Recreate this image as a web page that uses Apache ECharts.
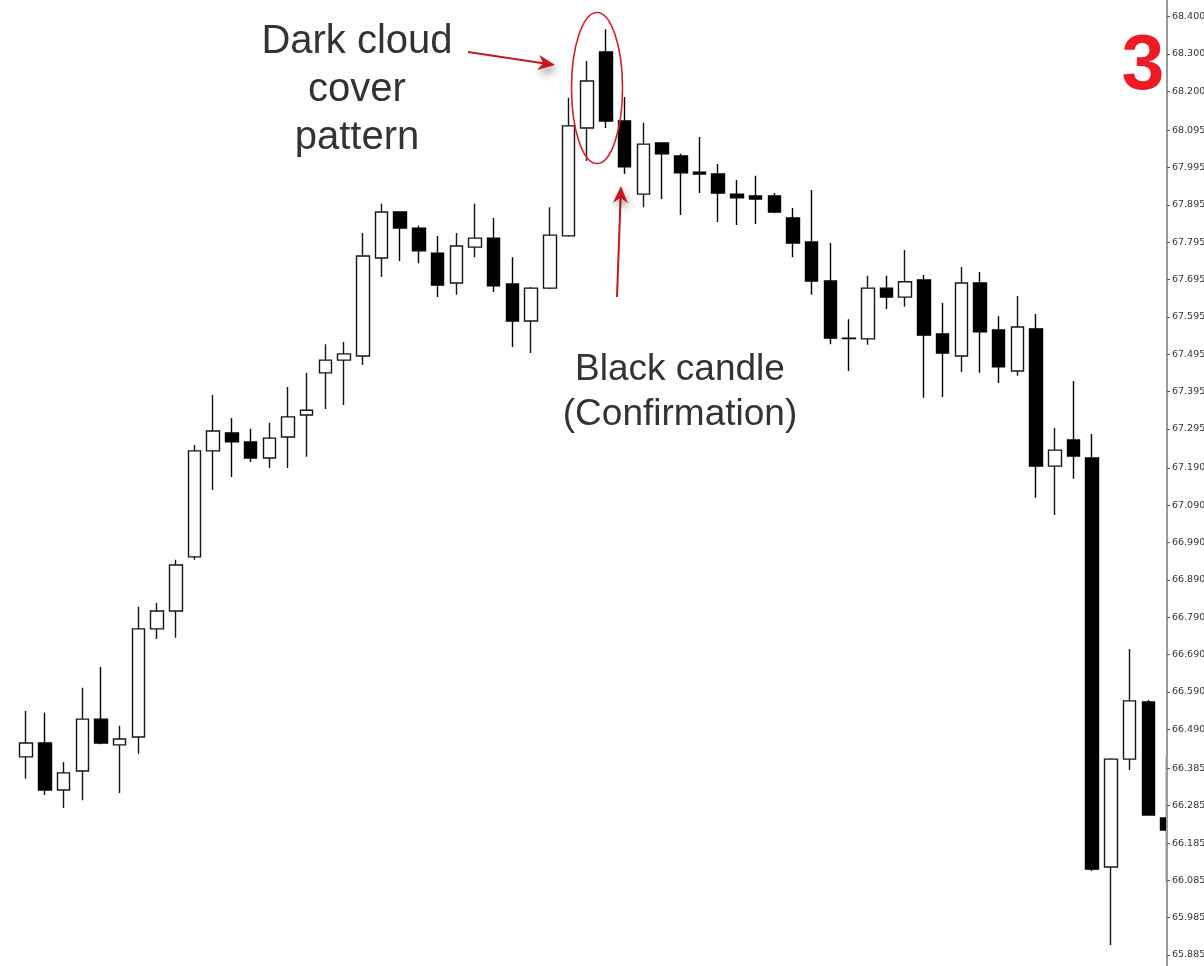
<!DOCTYPE html>
<html lang="en">
<head>
	<meta charset="utf-8">
	<title>Dark cloud cover pattern</title>
	<script src="https://cdn.jsdelivr.net/npm/echarts@6/dist/echarts.min.js"></script>
	<style>
		html, body { margin: 0; padding: 0; background: #fff; }
		#chart { width: 1204px; height: 966px; }
	</style>
</head>
<body>
	<div id="chart"></div>
	<script>
		// candles, oldest first
		var opens = [66.416, 66.453, 66.327, 66.378, 66.517, 66.448, 66.469, 66.759, 66.807, 66.952,
			67.236, 67.284, 67.260, 67.217, 67.273, 67.332, 67.445, 67.479, 67.490, 67.753,
			67.876, 67.833, 67.766, 67.686, 67.782, 67.806, 67.683, 67.584, 67.672, 67.812,
			68.101, 68.305, 68.120, 67.924, 68.061, 68.026, 67.983, 67.978, 67.924, 67.919,
			67.919, 67.860, 67.796, 67.691, 67.538, 67.536, 67.672, 67.648, 67.694, 67.549,
			67.490, 67.686, 67.560, 67.450, 67.563, 67.195, 67.265, 67.217, 66.121, 66.410,
			66.563, 66.252];
		var closes = [66.453, 66.327, 66.373, 66.517, 66.453, 66.464, 66.759, 66.807, 66.930, 67.236,
			67.289, 67.260, 67.217, 67.270, 67.327, 67.345, 67.479, 67.496, 67.758, 67.876,
			67.833, 67.772, 67.680, 67.785, 67.806, 67.678, 67.584, 67.672, 67.814, 68.107,
			68.227, 68.120, 67.997, 68.058, 68.032, 67.981, 67.978, 67.927, 67.914, 67.911,
			67.876, 67.793, 67.691, 67.538, 67.537, 67.672, 67.648, 67.689, 67.546, 67.498,
			67.686, 67.555, 67.461, 67.568, 67.195, 67.238, 67.222, 66.115, 66.410, 66.566,
			66.260, 66.220];
		var lows = [66.357, 66.314, 66.279, 66.300, 66.450, 66.319, 66.424, 66.732, 66.735, 66.944,
			67.131, 67.166, 67.206, 67.190, 67.190, 67.220, 67.348, 67.359, 67.466, 67.702,
			67.745, 67.739, 67.648, 67.654, 67.755, 67.662, 67.514, 67.498, 67.670, 67.810,
			68.013, 68.101, 67.978, 67.889, 67.911, 67.868, 67.927, 67.849, 67.841, 67.844,
			67.873, 67.755, 67.654, 67.522, 67.450, 67.520, 67.616, 67.622, 67.378, 67.380,
			67.447, 67.445, 67.418, 67.437, 67.110, 67.064, 67.161, 66.110, 65.912, 66.381,
			66.258, 66.078];
		var highs = [66.539, 66.534, 66.402, 66.601, 66.657, 66.499, 66.818, 66.828, 66.944, 67.252,
			67.386, 67.324, 67.295, 67.311, 67.407, 67.445, 67.522, 67.528, 67.820, 67.898,
			67.878, 67.839, 67.812, 67.820, 67.898, 67.860, 67.755, 67.675, 67.889, 68.182,
			68.281, 68.366, 68.184, 68.115, 68.063, 68.032, 68.077, 68.005, 67.962, 67.973,
			67.927, 67.887, 67.935, 67.793, 67.589, 67.705, 67.705, 67.774, 67.707, 67.632,
			67.729, 67.715, 67.597, 67.651, 67.603, 67.297, 67.423, 67.281, 66.412, 66.705,
			66.568, 66.416];

		// price scale labels on the right
		var priceTicks = [68.400, 68.300, 68.200, 68.095, 67.995, 67.895, 67.795, 67.695, 67.595,
			67.495, 67.395, 67.295, 67.190, 67.090, 66.990, 66.890, 66.790, 66.690, 66.590,
			66.490, 66.385, 66.285, 66.185, 66.085, 65.985, 65.885];

		var chart = echarts.init(document.getElementById('chart'));

		var candles = [];
		for (var i = 0; i < opens.length; i++) {
			candles.push([i, opens[i], closes[i], lows[i], highs[i]]);
		}

		var red = '#c8161d';

		// red arrow: shaft + filled head, from (x1,y1) to the tip (x2,y2)
		function arrow(x1, y1, x2, y2) {
			var dx = x2 - x1, dy = y2 - y1;
			var len = Math.sqrt(dx * dx + dy * dy);
			var ux = dx / len, uy = dy / len;
			var nx = -uy, ny = ux;
			var hl = 17, hw = 7.5;
			var bx = x2 - ux * hl, by = y2 - uy * hl;
			var kx = x2 - ux * 12, ky = y2 - uy * 12;
			return {
				type: 'group',
				children: [{
					type: 'polyline',
					shape: { points: [[x1, y1], [kx, ky]] },
					style: { stroke: red, lineWidth: 2, fill: null }
				}, {
					type: 'polygon',
					shape: { points: [[x2, y2], [bx + nx * hw, by + ny * hw], [kx, ky], [bx - nx * hw, by - ny * hw]] },
					style: { fill: red, shadowBlur: 8, shadowColor: 'rgba(0,0,0,0.45)', shadowOffsetX: 2, shadowOffsetY: 5 }
				}]
			};
		}

		var option = {
			animation: false,
			backgroundColor: '#fff',
			grid: { left: 0, right: 37, top: 0, bottom: 0, containLabel: false, outerBoundsMode: 'none' },
			xAxis: {
				type: 'value',
				min: -1.4,
				max: 61,
				show: false
			},
			yAxis: {
				type: 'value',
				position: 'right',
				z: 10,
				min: 65.8555,
				max: 68.4442,
				axisLine: { show: true, onZero: false, lineStyle: { color: '#9a9a9a', width: 2 } },
				axisTick: {
					show: true,
					customValues: priceTicks,
					length: 3,
					lineStyle: { color: '#555' }
				},
				axisLabel: {
					customValues: priceTicks,
					formatter: function (v) { return v.toFixed(3); },
					fontFamily: 'DejaVu Sans',
					fontSize: 9.5,
					color: '#333',
					margin: 5
				},
				splitLine: { show: false }
			},
			series: [{
				type: 'candlestick',
				data: candles,
				barWidth: 13,
				clip: true,
				itemStyle: {
					color: '#fff',
					color0: '#000',
					borderColor: '#151515',
					borderColor0: '#000',
					borderColorDoji: '#151515',
					borderWidth: 1.4
				}
			}],
			graphic: [{
				// the price panel hides whatever runs past the scale line
				type: 'rect',
				z: 5,
				shape: { x: 1168, y: 0, width: 36, height: 966 },
				style: { fill: '#fff' }
			}, {
				type: 'text',
				z: 6,
				x: 357,
				y: 90,
				style: {
					text: 'Dark cloud\ncover\npattern',
					font: '40px "Liberation Sans", Arial, sans-serif',
					fill: '#333',
					align: 'center',
					verticalAlign: 'middle',
					lineHeight: 48
				}
			}, {
				type: 'text',
				z: 6,
				x: 680,
				y: 392,
				style: {
					text: 'Black candle\n(Confirmation)',
					font: '37px "Liberation Sans", Arial, sans-serif',
					fill: '#333',
					align: 'center',
					verticalAlign: 'middle',
					lineHeight: 45
				}
			}, {
				type: 'text',
				z: 6,
				x: 1143,
				y: 68,
				style: {
					text: '3',
					font: 'bold 77px "Liberation Sans", Arial, sans-serif',
					fill: '#ed1c24',
					align: 'center',
					verticalAlign: 'middle'
				}
			}, {
				type: 'ellipse',
				z: 6,
				shape: { cx: 597, cy: 88, rx: 25.5, ry: 75.5 },
				style: { stroke: '#d42027', lineWidth: 1.6, fill: null }
			},
			arrow(468, 52, 555, 65),
			arrow(617, 297, 621, 186)
			]
		};
		chart.setOption(option);
	</script>
</body>
</html>
